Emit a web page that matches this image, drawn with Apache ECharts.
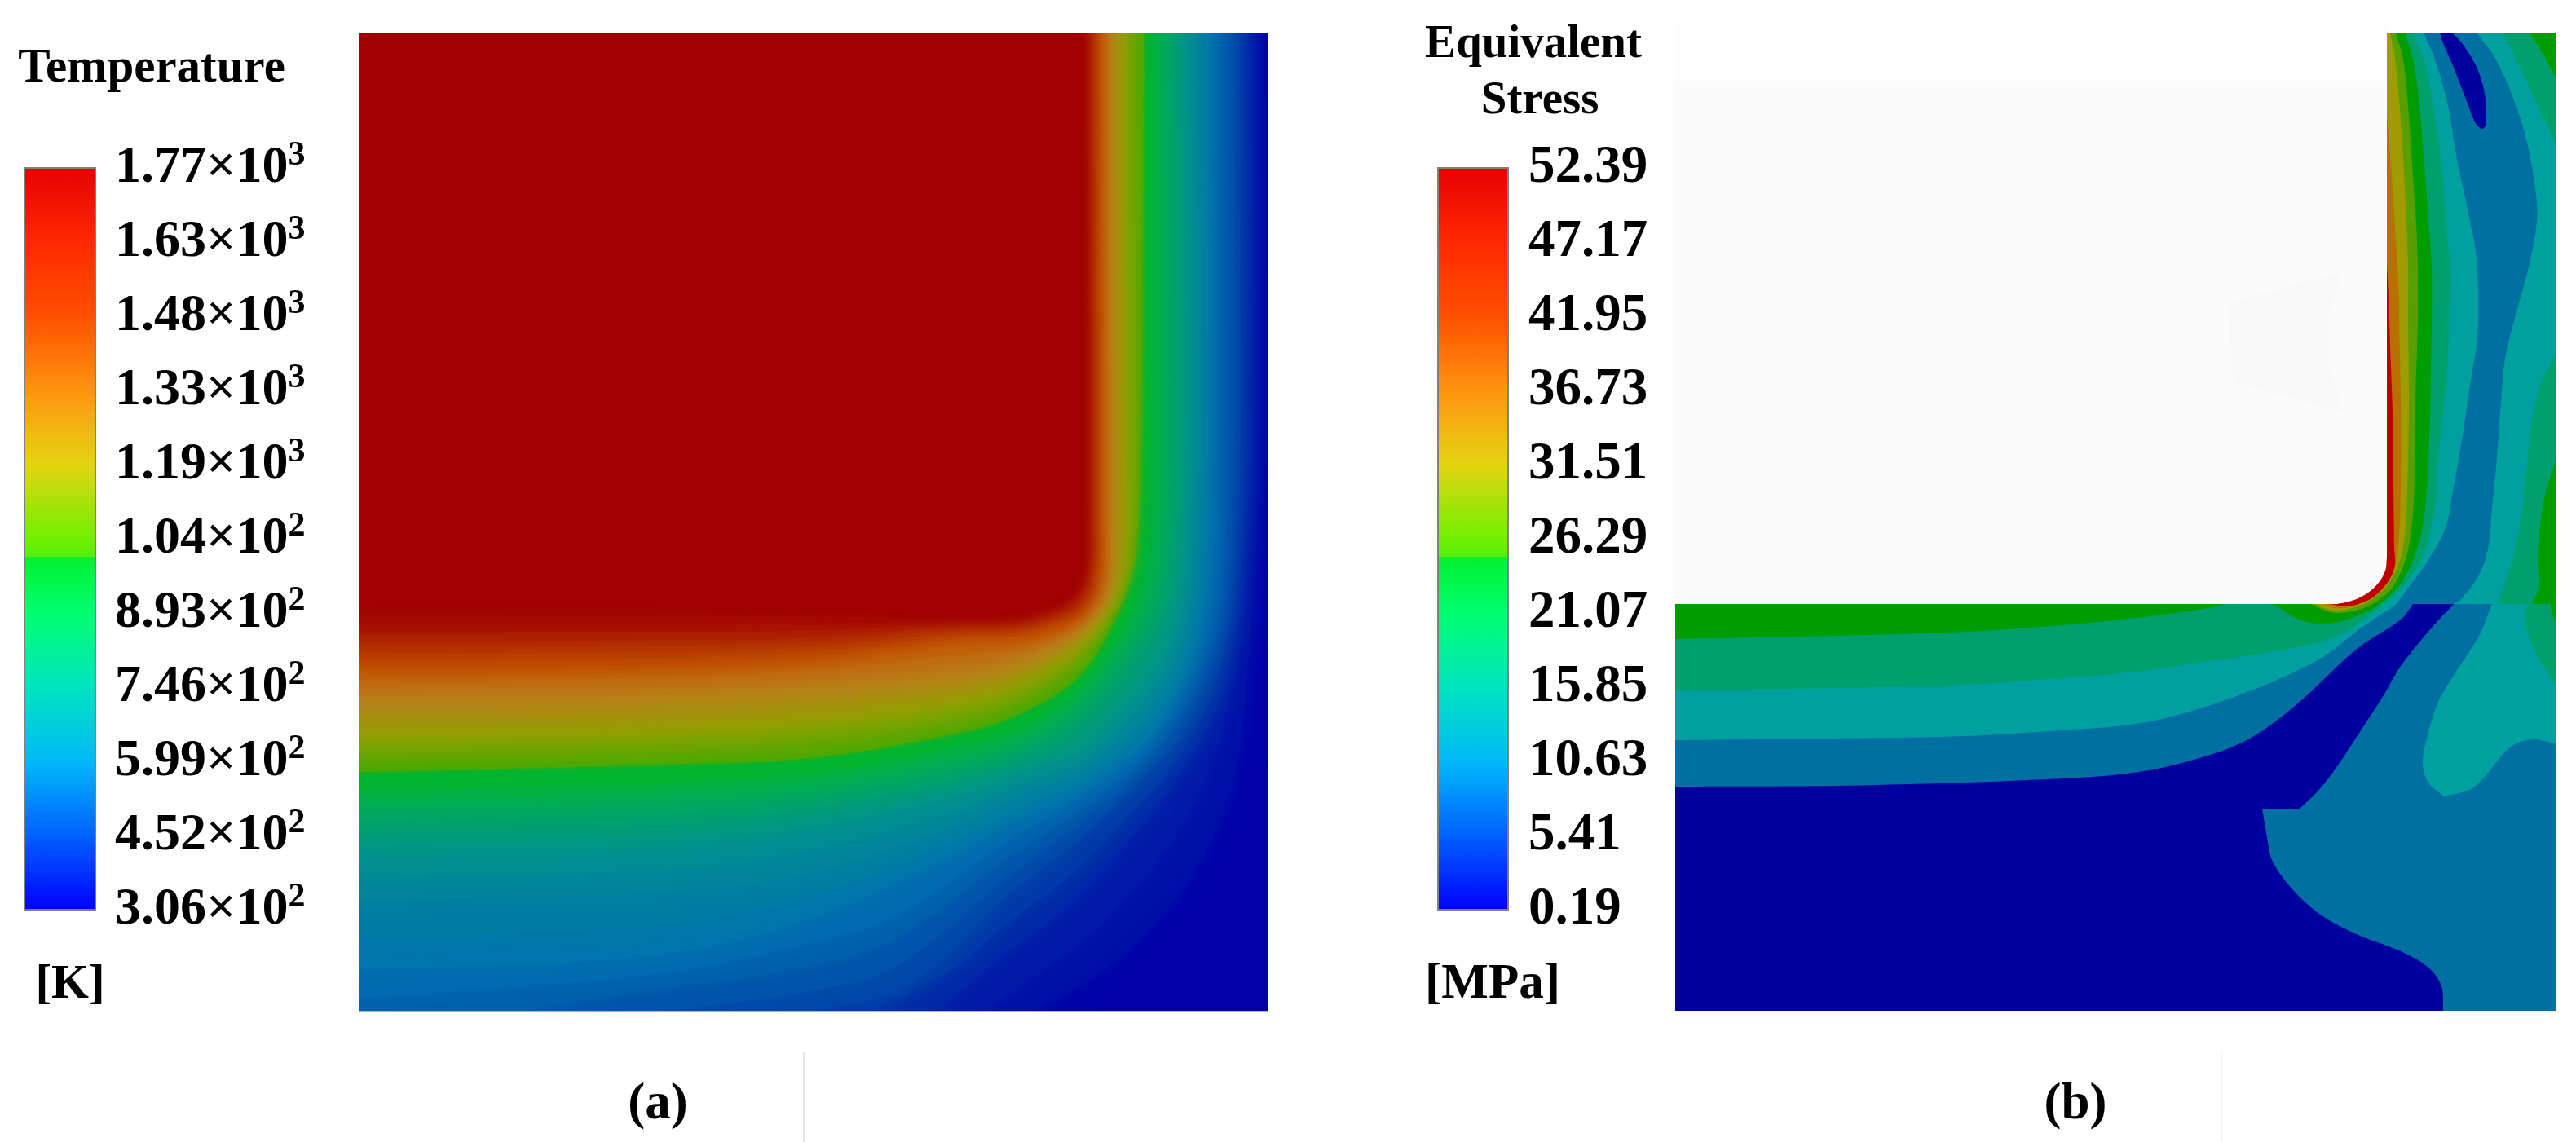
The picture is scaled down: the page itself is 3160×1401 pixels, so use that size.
<!DOCTYPE html>
<html><head><meta charset="utf-8">
<style>html,body{margin:0;padding:0;background:#fff}#c{width:3160px;height:1401px}</style>
<script src="https://cdn.jsdelivr.net/npm/echarts@6/dist/echarts.min.js"></script>
</head><body><div id="c"></div>
<script>
/* ---------- colour bars ---------- */
const tempTicks = ['3.06×10^2','4.52×10^2','5.99×10^2','7.46×10^2','8.93×10^2','1.04×10^2','1.19×10^3','1.33×10^3','1.48×10^3','1.63×10^3','1.77×10^3'];
const stressTicks = ['0.19','5.41','10.63','15.85','21.07','26.29','31.51','36.73','41.95','47.17','52.39'];
const barStopOffsets = [0,0.1,0.2,0.3,0.4,0.5,0.524,0.525,0.6,0.7,0.8,0.9,1];
const barStopColors = ['#e80000','#ff2800','#ff5000','#ff9410','#e4d410','#70f000','#54f00c','#00f030','#00ff70','#00e4c0','#00b8f8','#0060ff','#0000ff'];

/* ---------- panel (a): temperature, isotherms ---------- */
const tempRampValues = [1620,1590,1560,1480,1400,1330,1190,1040,1001,1000,893,746,599,452,330,306];
const tempRampColors = ['#a00000','#a60c00','#b02800','#c05000','#bf6c10','#b88018','#90a000','#50a800','#46aa00','#00b820','#00a860','#009090','#0070b0','#0040a8','#0008a8','#0000a8'];
const isoLevels = [330,355,380,415,452,490,525,560,599,635,672,710,746,783,820,858,893,921,950,1001,1040,1078,1115,1150,1190,1225,1260,1295,1330,1357,1385,1410,1440,1460,1480,1500,1520,1540,1560,1575,1590,1605,1620];
const iso330  = [[1270,1240],[1300,1225],[1383,1167],[1467,1067],[1515,950],[1535,750],[1542,560],[1543,300],[1541,41]];
const iso355  = [[1210,1240],[1270,1197],[1340,1145],[1420,1057],[1478,960],[1518,800],[1532,640],[1536,300],[1534,41]];
const iso380  = [[1150,1240],[1233,1170],[1300,1120],[1373,1045],[1440,960],[1500,850],[1525,640],[1528,300],[1527,41]];
const iso415  = [[1075,1240],[1167,1190],[1233,1135],[1300,1085],[1373,1014],[1445,930],[1497,820],[1519,630],[1521,300],[1520,41]];
const iso452  = [[1000,1240],[1100,1217],[1167,1167],[1233,1100],[1300,1050],[1373,983],[1450,900],[1495,790],[1513,620],[1515,300],[1513,41]];
const iso490  = [[820,1240],[1000,1215],[1100,1185],[1233,1078],[1373,970],[1441,892],[1490,785],[1505,630],[1507,300],[1506,41]];
const iso525  = [[640,1240],[800,1215],[1000,1185],[1100,1150],[1233,1055],[1373,958],[1432,885],[1485,780],[1497,640],[1499,300],[1498,41]];
const iso560  = [[441,1225],[800,1195],[1000,1155],[1100,1123],[1233,1034],[1373,945],[1423,892],[1474,786],[1489,670],[1491,350],[1491,41]];
const iso599  = [[441,1190],[800,1172],[1000,1125],[1180,1043],[1233,1013],[1317,973],[1413,900],[1463,793],[1480,700],[1482,400],[1483,41]];
const iso635  = [[441,1150],[800,1135],[1000,1098],[1180,1027],[1242,995],[1321,959],[1413,883],[1458,787],[1472,660],[1475,400],[1475,41]];
const iso672  = [[441,1105],[800,1095],[1000,1070],[1180,1010],[1250,975],[1325,945],[1413,865],[1452,780],[1465,627],[1468,400],[1466,41]];
const iso710  = [[441,1078],[800,1068],[1000,1042],[1180,992],[1265,956],[1328,932],[1413,846],[1446,770],[1459,627],[1462,400],[1458,41]];
const iso746  = [[441,1050],[800,1040],[1000,1015],[1180,973],[1280,937],[1330,920],[1413,827],[1440,760],[1453,627],[1456,400],[1450,41]];
const iso783  = [[441,1035],[800,1026],[1000,1002],[1180,963],[1270,931],[1324,910],[1405,818],[1434,752],[1446,627],[1448,400],[1443,41]];
const iso820  = [[441,1020],[800,1012],[1000,990],[1180,953],[1260,925],[1318,900],[1397,810],[1427,745],[1438,627],[1440,400],[1436,41]];
const iso858  = [[441,1006],[800,998],[1000,979],[1180,943],[1253,919],[1312,888],[1388,801],[1420,736],[1431,627],[1433,400],[1430,41]];
const iso893  = [[441,992],[800,985],[1000,968],[1180,933],[1247,913],[1307,877],[1380,793],[1413,727],[1424,627],[1426,400],[1423,41]];
const iso921  = [[441,980],[800,972],[1000,957],[1180,923],[1247,903],[1311,864],[1378,781],[1406,718],[1417,627],[1419,400],[1417,41]];
const iso950  = [[441,968],[800,960],[1000,947],[1180,914],[1247,893],[1315,852],[1377,770],[1400,710],[1410,627],[1413,400],[1412,41]];
const iso1001 = [[441,947],[800,938],[1000,929],[1180,898],[1247,877],[1323,830],[1373,747],[1388,693],[1397,627],[1401,400],[1403,41]];
const iso1040 = [[441,938],[800,932],[1000,922],[1180,893],[1250,868],[1318,825],[1368,750],[1390,695],[1396,627],[1398,400],[1397,41]];
const iso1078 = [[441,929],[800,923],[1000,912],[1180,885],[1250,860],[1317,818],[1364,752],[1386,697],[1392,627],[1393,400],[1392,41]];
const iso1115 = [[441,920],[800,914],[1000,903],[1180,877],[1250,853],[1316,812],[1361,753],[1382,700],[1388,627],[1388,400],[1387,41]];
const iso1150 = [[441,911],[800,905],[1000,894],[1180,868],[1250,845],[1315,806],[1358,754],[1378,702],[1384,627],[1383,400],[1382,41]];
const iso1190 = [[441,903],[800,897],[1000,885],[1180,860],[1250,838],[1315,800],[1355,755],[1375,705],[1380,627],[1379,400],[1377,41]];
const iso1225 = [[441,891],[800,886],[1000,874],[1180,851],[1250,831],[1313,795],[1352,753],[1371,706],[1375,627],[1374,400],[1372,41]];
const iso1260 = [[441,880],[800,875],[1000,863],[1180,843],[1250,824],[1312,791],[1350,752],[1367,708],[1371,627],[1370,400],[1368,41]];
const iso1295 = [[441,869],[800,864],[1000,852],[1180,835],[1250,817],[1311,786],[1347,751],[1363,709],[1366,627],[1365,400],[1364,41]];
const iso1330 = [[441,858],[800,853],[1000,842],[1180,827],[1250,810],[1310,782],[1345,750],[1360,710],[1362,627],[1361,400],[1360,41]];
const iso1357 = [[441,850],[800,845],[1000,835],[1180,818],[1250,804],[1309,779],[1342,749],[1357,709],[1359,627],[1358,400],[1357,41]];
const iso1385 = [[441,843],[800,838],[1000,828],[1180,810],[1250,798],[1308,776],[1340,748],[1355,708],[1357,627],[1356,400],[1355,41]];
const iso1410 = [[441,836],[800,831],[1000,821],[1180,802],[1250,793],[1307,773],[1338,747],[1353,707],[1354,627],[1354,400],[1353,41]];
const iso1440 = [[441,829],[800,825],[1000,815],[1180,794],[1250,788],[1306,770],[1336,746],[1351,706],[1352,627],[1352,400],[1351,41]];
const iso1460 = [[441,823],[800,820],[1000,810],[1180,788],[1250,784],[1305,767],[1334,745],[1349,705],[1350,627],[1350,400],[1349,41]];
const iso1480 = [[441,818],[800,815],[1000,805],[1180,783],[1250,780],[1305,765],[1333,745],[1347,705],[1348,627],[1348,400],[1347,41]];
const iso1500 = [[441,810],[800,807],[1000,799],[1180,779],[1249,776],[1303,761],[1331,742],[1344,703],[1345,627],[1345,400],[1344,41]];
const iso1520 = [[441,802],[800,800],[1000,793],[1180,775],[1248,773],[1302,758],[1329,740],[1342,702],[1343,627],[1343,400],[1342,41]];
const iso1540 = [[441,794],[800,792],[1000,787],[1180,771],[1247,769],[1301,755],[1327,738],[1339,701],[1340,627],[1340,400],[1339,41]];
const iso1560 = [[441,786],[800,785],[1000,782],[1180,767],[1247,766],[1300,752],[1325,735],[1337,700],[1338,627],[1338,400],[1337,41]];
const iso1575 = [[441,776],[800,775],[1000,773],[1180,764],[1247,762],[1298,748],[1322,731],[1334,699],[1335,627],[1335,400],[1334,41]];
const iso1590 = [[441,765],[800,765],[1000,765],[1180,761],[1247,758],[1297,745],[1320,728],[1332,698],[1333,627],[1333,400],[1331,41]];
const iso1605 = [[441,753],[800,754],[1000,756],[1180,758],[1247,754],[1295,741],[1317,725],[1329,696],[1330,627],[1330,400],[1328,41]];
const iso1620 = [[441,742],[800,744],[1000,748],[1180,755],[1247,750],[1293,737],[1313,722],[1325,695],[1327,627],[1327,400],[1325,41]];
const isoLines = [iso330,iso355,iso380,iso415,iso452,iso490,iso525,iso560,iso599,iso635,iso672,iso710,iso746,iso783,iso820,iso858,iso893,iso921,iso950,iso1001,iso1040,iso1078,iso1115,iso1150,iso1190,iso1225,iso1260,iso1295,iso1330,iso1357,iso1385,iso1410,iso1440,iso1460,iso1480,iso1500,iso1520,iso1540,iso1560,iso1575,iso1590,iso1605,iso1620];

/* ---------- panel (b): equivalent stress, contour bands ---------- */
const stressBandValues = [0.19,5.41,10.63,15.85,21.07,26.29,31.51,36.73,41.95];
const stressBandColors = ['#00009e','#0070a2','#00a0a0','#00a06c','#009c00','#58a000','#a09c00','#b87000','#c00000'];
const floorBlueLine  = [[2055,965],[2250,964],[2410,960],[2530,955],[2600,950],[2669,938],[2752,910],[2814,867],[2890,797],[2945,760],[2960,741]];
const floorTealLine  = [[2055,908],[2250,906],[2410,903],[2530,896],[2620,888],[2686,873],[2772,843],[2848,807],[2893,773],[2940,741]];
const floorSeaLine   = [[2055,847],[2250,844],[2410,840],[2530,832],[2620,824],[2703,812],[2772,802],[2848,787],[2886,770],[2925,741]];
const floorGreenLine = [[2055,784],[2250,780],[2410,775],[2530,767],[2620,758],[2669,752],[2714,745],[2730,741]];
const lowerBlueTop   = [[3010,741],[2983,770],[2945,817],[2924,853],[2900,890],[2865,943],[2841,973],[2821,992]];
const lowerBlueBase  = [[2775,992],[2781,1027],[2788,1057],[2814,1093],[2848,1123],[2893,1147],[2945,1167],[2979,1187],[2995,1210],[2997,1240]];
const lowerTealLeft  = [[3057,741],[3041,780],[3007,833],[2990,863],[2976,910],[2972,937],[2979,960],[2998,977]];
const lowerTealBase  = [[2998,977],[3031,968],[3048,953],[3079,917],[3107,907],[3136,913]];
const lowerSeaLine   = [[3100,741],[3098,763],[3110,800],[3136,842]];
const lowerGreenLine = [[3128,741],[3136,770]];
const colSeaTopLine  = [[3070,40],[3087,73],[3110,123],[3136,177]];
const colGreenTopLine= [[3103,40],[3120,67],[3136,97]];
const colSeaRightLine= [[3136,433],[3117,470],[3105,523],[3098,590],[3092,640],[3083,683],[3070,723],[3065,741]];
const colGreenRightLine=[[3136,563],[3123,603],[3117,637],[3113,683],[3114,720],[3107,741]];
const colBlueLeft    = [[2973,40],[2987,73],[3003,130],[3013,190],[3027,257],[3038,317],[3040,390],[3038,423],[3030,473],[3020,540],[3010,597],[3000,647],[2977,690],[2955,720],[2940,741]];
const colBlueRight   = [[3010,741],[3017,737],[3040,707],[3052,673],[3057,623],[3062,573],[3067,507],[3073,440],[3085,390],[3103,323],[3112,270],[3110,230],[3097,163],[3080,113],[3060,70],[3038,40]];
const colNavyBlob    = [[2993,40],[2997,53],[3010,83],[3027,127],[3038,153],[3047,157],[3050,140],[3047,110],[3037,80],[3020,53],[3008,40]];
const wallSeaLine    = [[2960,40],[2973,73],[2985,130],[2995,203],[3000,263],[3005,330],[3004,390],[3003,440],[2997,507],[2990,573],[2987,623],[2973,680],[2950,717],[2925,741]];
const wallGreenLine  = [[2950,40],[2960,73],[2968,130],[2973,190],[2978,257],[2983,330],[2983,390],[2982,457],[2980,540],[2975,623],[2967,667],[2947,713],[2917,743],[2897,753],[2869,763],[2841,765],[2814,757],[2795,745],[2785,741]];
const wallYellowGreenLine=[[2939,40],[2948,73],[2954,130],[2960,217],[2965,297],[2966,390],[2963,490],[2962,590],[2958,650],[2950,690],[2933,723],[2910,741],[2890,749],[2865,752],[2850,748],[2835,741]];
const wallOliveLine  = [[2932,40],[2938,73],[2945,147],[2950,230],[2954,330],[2954,390],[2955,490],[2953,603],[2950,657],[2943,690],[2927,720],[2905,738],[2885,746],[2865,749],[2850,746],[2840,741]];
const wallOrangeLine = [[2927,130],[2933,203],[2938,280],[2943,363],[2943,390],[2945,490],[2945,590],[2943,657],[2938,690],[2923,718],[2905,735],[2885,744],[2865,746],[2852,741]];
const wallRedLine    = [[2927,307],[2930,363],[2932,423],[2935,507],[2936,590],[2937,673],[2938,693],[2930,713],[2912,732],[2893,741],[2875,744],[2860,741]];
const voidArc        = [[2928,683],[2926,700],[2917,716],[2902,729],[2885,737],[2867,741]];

/* outer corners that close each band (they sit behind the empty area) */
const R=[3136,741], RB=[3136,1240];
const stressContours = [
  {band:0.19, parts:[[[2055,741],[3136,741]],[R,RB],[RB,[2055,1240]],[[2055,1240],[2055,741]]]},
  {band:5.41, parts:[floorBlueLine,[[2960,741],[2055,741]]]},
  {band:5.41, parts:[lowerBlueTop,[lowerBlueTop[7],lowerBlueBase[0]],lowerBlueBase,[lowerBlueBase[9],RB],[RB,R]]},
  {band:10.63,parts:[lowerTealLeft,lowerTealBase,[[3136,913],R]]},
  {band:15.85,parts:[lowerSeaLine,[[3136,842],R]]},
  {band:21.07,parts:[lowerGreenLine,[[3136,770],R]]},
  {band:10.63,parts:[floorTealLine,[[2940,741],[2055,741]]]},
  {band:15.85,parts:[floorSeaLine,[[2925,741],[2055,741]]]},
  {band:21.07,parts:[floorGreenLine,[[2730,741],[2055,741]]]},
  {band:10.63,parts:[[[2900,40],[3136,40]],[[3136,40],R],[R,[2900,741]]]},
  {band:15.85,parts:[colSeaTopLine,[[3136,177],[3136,40]]]},
  {band:21.07,parts:[colGreenTopLine,[[3136,97],[3136,40]]]},
  {band:15.85,parts:[colSeaRightLine,[[3065,741],R]]},
  {band:21.07,parts:[colGreenRightLine,[[3107,741],R]]},
  {band:5.41, parts:[colBlueLeft,[[2940,741],[3010,741]],colBlueRight]},
  {band:0.19, parts:[colNavyBlob]},
  {band:15.85,parts:[wallSeaLine,[[2925,741],[2900,741]],[[2900,741],[2900,40]]]},
  {band:21.07,parts:[wallGreenLine,[[2785,741],[2785,730]],[[2785,730],[2900,730]],[[2900,730],[2900,40]]]},
  {band:26.29,parts:[wallYellowGreenLine,[[2835,741],[2835,730]],[[2835,730],[2900,730]],[[2900,730],[2900,40]]]},
  {band:31.51,parts:[wallOliveLine,[[2840,741],[2840,730]],[[2840,730],[2900,730]],[[2900,730],[2900,40]]]},
  {band:36.73,parts:[wallOrangeLine,[[2852,741],[2852,730]],[[2852,730],[2900,730]],[[2900,730],[2900,130]]]},
  {band:41.95,parts:[wallRedLine,[[2860,741],[2860,730]],[[2860,730],[2900,730]],[[2900,730],[2900,307]]]}
];
const voidParts = [[[2055,30],[2928,30]],[[2928,30],[2928,683]],voidArc,[[2867,741],[2055,741]]];
const voidGhost = [[2733,372],[2873,334],[2857,383],[2857,449],[2873,505],[2740,469]];
const voidUpper = [[2055,30],[2927,30],[2927,100],[2055,100]];

/* ---------- helpers ---------- */
const SERIF = '"Liberation Serif","Times New Roman",serif';
function smooth(px){
  if(px.length<3) return px.slice();
  const tan=px.map((p,i)=>{
    const a=px[Math.max(i-1,0)], b=px[Math.min(i+1,px.length-1)];
    const dx=b[0]-a[0], dy=b[1]-a[1], l=Math.hypot(dx,dy)||1; return [dx/l,dy/l];
  });
  const out=[];
  for(let i=0;i<px.length-1;i++){
    const p=px[i], q=px[i+1], d=Math.hypot(q[0]-p[0],q[1]-p[1])/3;
    const c1=[p[0]+tan[i][0]*d,p[1]+tan[i][1]*d], c2=[q[0]-tan[i+1][0]*d,q[1]-tan[i+1][1]*d];
    for(let k=0;k<16;k++){
      const t=k/16,u=1-t;
      out.push([u*u*u*p[0]+3*u*u*t*c1[0]+3*u*t*t*c2[0]+t*t*t*q[0],
                u*u*u*p[1]+3*u*u*t*c1[1]+3*u*t*t*c2[1]+t*t*t*q[1]]);
    }
  }
  out.push(px[px.length-1]);
  return out;
}
function rampColor(T){
  const v=tempRampValues,c=tempRampColors;
  if(T>=v[0]) return c[0];
  for(let i=0;i<v.length-1;i++){
    if(T<=v[i]&&T>=v[i+1]){ return echarts.color.lerp((v[i]-T)/(v[i]-v[i+1]),[c[i],c[i+1]]); }
  }
  return c[c.length-1];
}
function partsToPoints(api,parts){
  let pts=[];
  parts.forEach(line=>{ pts=pts.concat(smooth(line.map(p=>api.coord(p)))); });
  return pts;
}
const tempItems=[{rect:true}].concat(isoLevels.map((T,i)=>({T,line:isoLines[i]})));
function renderTemp(params,api){
  const it=tempItems[params.dataIndex];
  if(it.rect){
    const pts=[[441,41],[1555,41],[1555,1240],[441,1240]].map(p=>api.coord(p));
    return {type:'polygon',shape:{points:pts},style:{fill:tempRampColors[tempRampColors.length-1]}};
  }
  const line=it.line,a=line[0],z=line[line.length-1];
  const next=isoLevels[params.dataIndex]!==undefined?isoLevels[params.dataIndex]:1770;
  const col=rampColor((it.T+next)/2);
  const closure=[[z[0],0],[300,0]];
  if(a[1]>=1240) closure.push([300,1300],[a[0],1300]); else closure.push([300,a[1]]);
  const pts=smooth(line.map(p=>api.coord(p))).concat(closure.map(p=>api.coord(p)));
  const blur=it.T<1000?28:(it.T===1001?4:12);
  return {type:'polygon',shape:{points:pts},style:{fill:col,shadowBlur:blur,shadowColor:col}};
}
const stressItems=stressContours.concat([{fill:'#fbfbfc',parts:voidParts},{fill:'#fdfdfd',straight:voidUpper},{fill:'#f8f8f9',straight:voidGhost}]);
function renderStress(params,api){
  const it=stressItems[params.dataIndex];
  const fill=it.fill||stressBandColors[stressBandValues.indexOf(it.band)];
  const pts=it.straight?it.straight.map(p=>api.coord(p)):partsToPoints(api,it.parts);
  return {type:'polygon',shape:{points:pts},style:{fill}};
}
function renderBar(params,api){
  const a=api.coord([0,10]), b=api.coord([1,0]);
  const stops=barStopOffsets.map((o,i)=>({offset:o,color:barStopColors[i]}));
  return {type:'rect',shape:{x:a[0],y:a[1],width:b[0]-a[0],height:b[1]-a[1]},
    style:{fill:new echarts.graphic.LinearGradient(0,0,0,1,stops),stroke:'#808080',lineWidth:2}};
}
function barAxes(grid,ticks,rich,fmt,size,margin){
  return {
    x:{type:'value',gridIndex:grid,min:0,max:1,show:false},
    y:{type:'category',gridIndex:grid,position:'right',boundaryGap:false,data:ticks,
       axisLine:{show:false},axisTick:{show:true,length:10,lineStyle:{color:'#777',width:2},alignWithLabel:true},
       splitLine:{show:false},
       axisLabel:{interval:0,margin,hideOverlap:false,color:'#000',fontFamily:SERIF,fontWeight:'bold',fontSize:size,formatter:fmt,rich}}
  };
}
const tempBar=barAxes(2,tempTicks,{
  b:{fontFamily:SERIF,fontWeight:'bold',fontSize:64,color:'#000'},
  s:{fontFamily:SERIF,fontWeight:'bold',fontSize:42,color:'#000',padding:[0,0,30,0]}
},v=>{const p=v.split('^');return '{b|'+p[0]+'}{s|'+p[1]+'}';},64,24);
const stressBar=barAxes(3,stressTicks,null,v=>v,65,25);

function txt(s,x,y,size){return {type:'text',x,y,silent:true,style:{text:s,font:'bold '+size+'px '+SERIF,fill:'#000',textAlign:'center',textVerticalAlign:'middle'}};}
function seg(x1,y1,x2,y2,c,w){return {type:'line',silent:true,shape:{x1,y1,x2,y2},style:{stroke:c,lineWidth:w}};}

const chart=echarts.init(document.getElementById('c'),null,{renderer:'canvas',width:3160,height:1401});
chart.setOption({
  animation:false,backgroundColor:'#fff',
  grid:[
    {left:441,top:41,width:1114,height:1199},
    {left:2055,top:30,width:1081,height:1210},
    {left:30,top:206,width:87,height:910},
    {left:1764,top:206,width:86,height:910}
  ],
  xAxis:[
    {type:'value',gridIndex:0,min:441,max:1555,show:false},
    {type:'value',gridIndex:1,min:2055,max:3136,show:false},
    tempBar.x,stressBar.x
  ],
  yAxis:[
    {type:'value',gridIndex:0,min:41,max:1240,inverse:true,show:false},
    {type:'value',gridIndex:1,min:30,max:1240,inverse:true,show:false},
    tempBar.y,stressBar.y
  ],
  series:[
    {type:'custom',name:'Temperature',xAxisIndex:0,yAxisIndex:0,clip:true,silent:true,renderItem:renderTemp,
     data:tempItems.map(it=>it.rect?[441,41]:it.line[0]),encode:{x:0,y:1}},
    {type:'custom',name:'Equivalent Stress',xAxisIndex:1,yAxisIndex:1,clip:true,silent:true,renderItem:renderStress,
     data:stressItems.map(it=>it.straight?it.straight[0]:it.parts[0][0]),encode:{x:0,y:1}},
    {type:'custom',xAxisIndex:2,yAxisIndex:2,silent:true,clip:false,renderItem:renderBar,data:[[0,0]],encode:{x:0,y:1},z:1},
    {type:'custom',xAxisIndex:3,yAxisIndex:3,silent:true,clip:false,renderItem:renderBar,data:[[0,0]],encode:{x:0,y:1},z:1}
  ],
  graphic:[
    txt('Temperature',186,85,59),
    txt('[K]',86,1209,59),
    txt('(a)',807,1356,63),
    txt('Equivalent',1881,55,57),
    txt('Stress',1889,124,57),
    txt('[MPa]',1831,1208,61),
    txt('(b)',2546,1356,63),
    seg(986,1290,986,1401,'#e6e6e6',2),
    seg(2725,1290,2725,1401,'#f2f2f2',2),
    seg(1555,42,1555,1240,'#5a5ae0',2),
    seg(441,1240,1555,1240,'#5a5ae0',1)
  ]
});
</script></body></html>
